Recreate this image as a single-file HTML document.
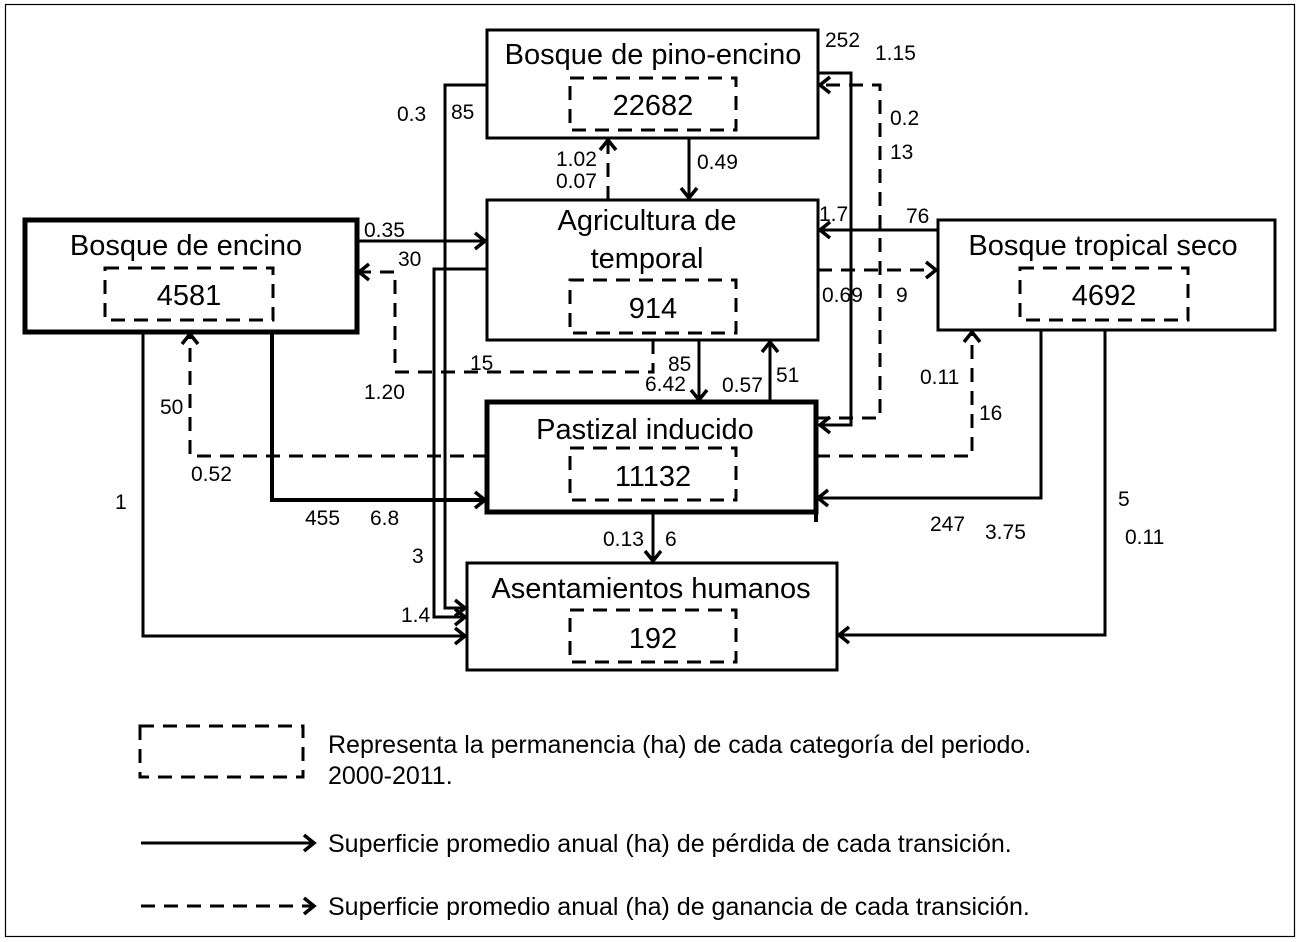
<!DOCTYPE html>
<html><head><meta charset="utf-8"><style>
html,body{margin:0;padding:0;background:#fff}
svg{display:block}
text{font-family:"Liberation Sans",sans-serif;fill:#000}
.t{font-size:29px}
.l{font-size:21px}
.g{font-size:25px}
</style></head><body>
<svg width="1301" height="942" viewBox="0 0 1301 942" xmlns="http://www.w3.org/2000/svg">
<defs>
<marker id="a" markerUnits="userSpaceOnUse" markerWidth="24" markerHeight="24" refX="12" refY="12" orient="auto" viewBox="0 0 24 24">
<path d="M2,4 L12,12 L2,20" fill="none" stroke="#000" stroke-width="3.5"/>
</marker>
</defs>
<rect x="5.5" y="4.5" width="1289" height="932" fill="none" stroke="#000" stroke-width="1.2"/>
<g fill="none" stroke="#000" stroke-width="3">
<rect x="487" y="30" width="331" height="108"/>
<rect x="487" y="200" width="331" height="140"/>
<rect x="487" y="402" width="329" height="110" stroke-width="5"/>
<line x1="816" y1="512" x2="816" y2="522" stroke-width="4"/>
<rect x="467" y="563" width="370" height="107"/>
<rect x="25" y="220" width="332" height="112" stroke-width="5"/>
<rect x="938" y="220" width="337" height="110"/>
<g stroke-dasharray="14,9">
<rect x="570" y="78" width="166" height="52"/>
<rect x="570" y="280" width="166" height="53"/>
<rect x="570" y="448" width="166" height="52"/>
<rect x="570" y="610" width="166" height="52"/>
<rect x="105" y="268" width="168" height="52"/>
<rect x="1020" y="268" width="168" height="52"/>
<rect x="140" y="726" width="163" height="51"/>
</g>
<polyline points="689,138 689,198" marker-end="url(#a)"/>
<polyline points="487,85 445,85 445,608 465,608" marker-end="url(#a)"/>
<polyline points="487,269 434,269 434,617 465,617" marker-end="url(#a)"/>
<polyline points="357,241 485,241" marker-end="url(#a)"/>
<polyline points="699,340 699,400" marker-end="url(#a)"/>
<polyline points="770,402 770,342" marker-end="url(#a)"/>
<polyline points="818,73 851,73 851,425 820,425" marker-end="url(#a)"/>
<polyline points="938,230 820,230" marker-end="url(#a)"/>
<polyline points="1041,330 1041,498 818,498" marker-end="url(#a)"/>
<polyline points="1105,330 1105,635 839,635" marker-end="url(#a)"/>
<polyline points="272,332 272,500 485,500" stroke-width="4" marker-end="url(#a)"/>
<polyline points="143,332 143,636 465,636" marker-end="url(#a)"/>
<polyline points="653,512 653,561" marker-end="url(#a)"/>
<polyline points="141,843 314,843" marker-end="url(#a)"/>
<g stroke-dasharray="14,9">
<polyline points="608,200 608,140" marker-end="url(#a)"/>
<polyline points="653,340 653,372 395,372 395,272 359,272" marker-end="url(#a)"/>
<polyline points="816,418 880,418 880,85 820,85" marker-end="url(#a)"/>
<polyline points="818,270 936,270" marker-end="url(#a)"/>
<polyline points="816,456 972,456 972,332" marker-end="url(#a)"/>
<polyline points="487,456 190,456 190,334" marker-end="url(#a)"/>
<polyline points="141,906 314,906" marker-end="url(#a)"/>
</g>
</g>
<g class="t" text-anchor="middle">
<text x="653" y="64">Bosque de pino-encino</text>
<text x="653" y="115">22682</text>
<text x="647" y="230">Agricultura de</text>
<text x="647" y="268">temporal</text>
<text x="653" y="318">914</text>
<text x="645" y="439">Pastizal inducido</text>
<text x="653" y="486">11132</text>
<text x="651" y="598">Asentamientos humanos</text>
<text x="653" y="648">192</text>
<text x="186" y="255">Bosque de encino</text>
<text x="189" y="305">4581</text>
<text x="1103" y="255">Bosque tropical seco</text>
<text x="1104" y="305">4692</text>
</g>
<g class="l">
<text x="825" y="47">252</text>
<text x="875" y="60">1.15</text>
<text x="397" y="121">0.3</text>
<text x="451" y="119">85</text>
<text x="890" y="125">0.2</text>
<text x="890" y="159">13</text>
<text x="556" y="166">1.02</text>
<text x="556" y="188">0.07</text>
<text x="697" y="169">0.49</text>
<text x="364" y="237">0.35</text>
<text x="398" y="266">30</text>
<text x="819" y="221">1.7</text>
<text x="906" y="223">76</text>
<text x="822" y="302">0.69</text>
<text x="896" y="302">9</text>
<text x="470" y="370">15</text>
<text x="668" y="371">85</text>
<text x="645" y="391">6.42</text>
<text x="722" y="392">0.57</text>
<text x="776" y="382">51</text>
<text x="364" y="399">1.20</text>
<text x="920" y="384">0.11</text>
<text x="979" y="420">16</text>
<text x="160" y="414">50</text>
<text x="191" y="481">0.52</text>
<text x="115" y="509">1</text>
<text x="305" y="525">455</text>
<text x="370" y="525">6.8</text>
<text x="930" y="531">247</text>
<text x="985" y="539">3.75</text>
<text x="1118" y="506">5</text>
<text x="1125" y="544">0.11</text>
<text x="603" y="546">0.13</text>
<text x="665" y="546">6</text>
<text x="412" y="563">3</text>
<text x="401" y="622">1.4</text>
</g>
<g class="g">
<text x="328" y="753">Representa la permanencia (ha) de cada categoría del periodo.</text>
<text x="328" y="784">2000-2011.</text>
<text x="328" y="852">Superficie promedio anual (ha) de pérdida de cada transición.</text>
<text x="328" y="915">Superficie promedio anual (ha) de ganancia de cada transición.</text>
</g>
</svg>
</body></html>
